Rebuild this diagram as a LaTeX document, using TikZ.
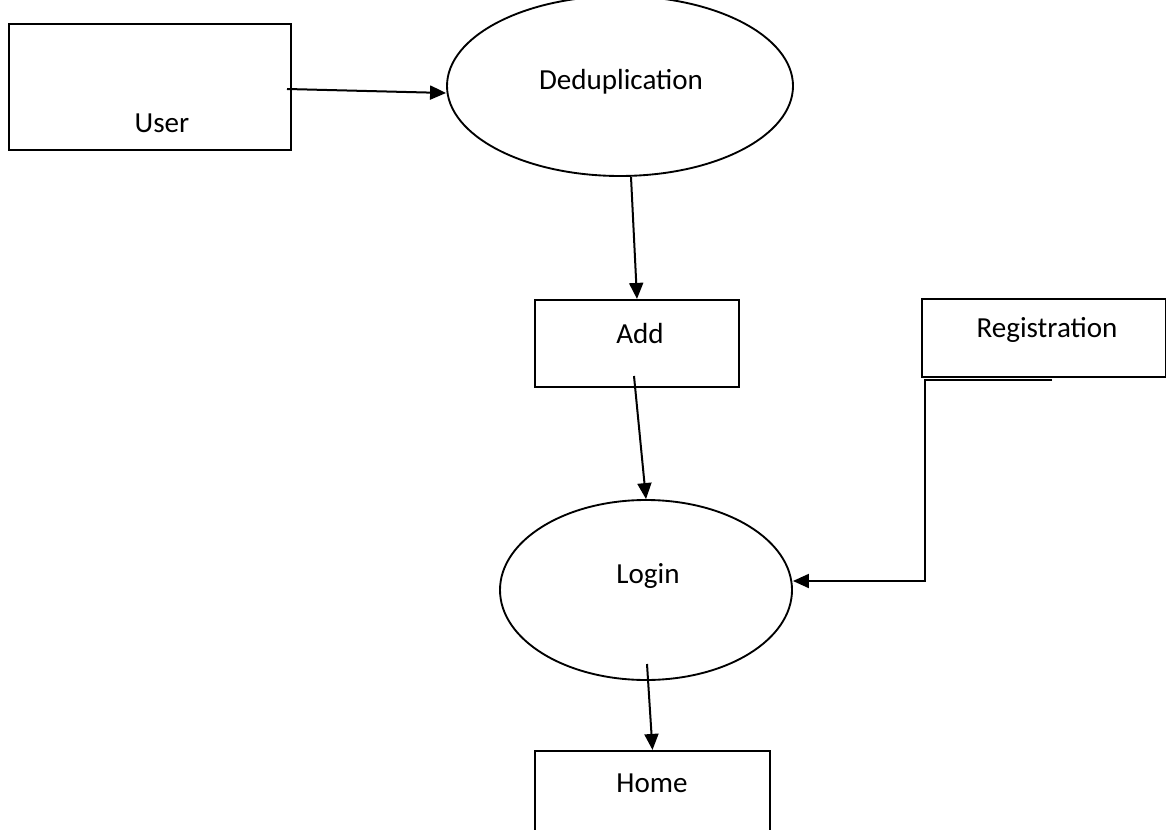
\documentclass[tikz,border=0pt]{standalone}
\usepackage{fontspec}
\setmainfont{Carlito}
\usetikzlibrary{shapes.geometric,arrows.meta,calc}
\begin{document}
\begin{tikzpicture}[x=0.75pt,y=-0.75pt,
  box/.style={draw,line width=1.6pt,rectangle,inner sep=0pt},
  oval/.style={draw,line width=1.4pt,ellipse,inner sep=0pt},
  lbl/.style={font=\fontsize{21.8}{26}\selectfont,inner sep=0pt},
  conn/.style={line width=1.5pt,-{Triangle[length=12pt,width=10.5pt]}}]
\useasboundingbox (0,0) rectangle (1166,830);
% boxes
\node[box,minimum width=282*0.75pt,minimum height=126*0.75pt] (user) at (150,87) {};
\node[lbl] (usert) at (162,123) {User};
\node[oval,minimum width=346*0.75pt,minimum height=180*0.75pt] (dedup) at (620,86) {};
\node[lbl] (dedupt) at (621,82) {Deduplication};
\node[box,minimum width=204*0.75pt,minimum height=87*0.75pt] (add) at (637,343.5) {};
\node[lbl] (addt) at (640,334) {Add};
\node[box,minimum width=244*0.75pt,minimum height=78*0.75pt] (reg) at (1044,338) {};
\node[lbl] (regt) at (1047,330) {Registration};
\node[oval,minimum width=292*0.75pt,minimum height=180*0.75pt] (login) at (646,590) {};
\node[lbl] (logint) at (648,576) {Login};
\node[box,minimum width=235*0.75pt,minimum height=84*0.75pt] (home) at (652.5,793) {};
\node[lbl] (homet) at (652,783) {Home};
% connector start points
\coordinate (u0) at (287,89);
\coordinate (d0) at (631,177);
\coordinate (a0) at (634,376);
\coordinate (r0) at (1052,380);
\coordinate (l0) at (647,664);
% connectors
\draw[conn] (u0) -- ($(dedup.west)+(0,7)$);
\draw[conn] (d0) -- (add.north);
\draw[conn] (a0) -- (login.north);
\draw[conn] (r0) -- (925,380) -- (925,581) -- (login.east |- 0,581);
\draw[conn] (l0) -- (home.north);
\end{tikzpicture}
\end{document}
